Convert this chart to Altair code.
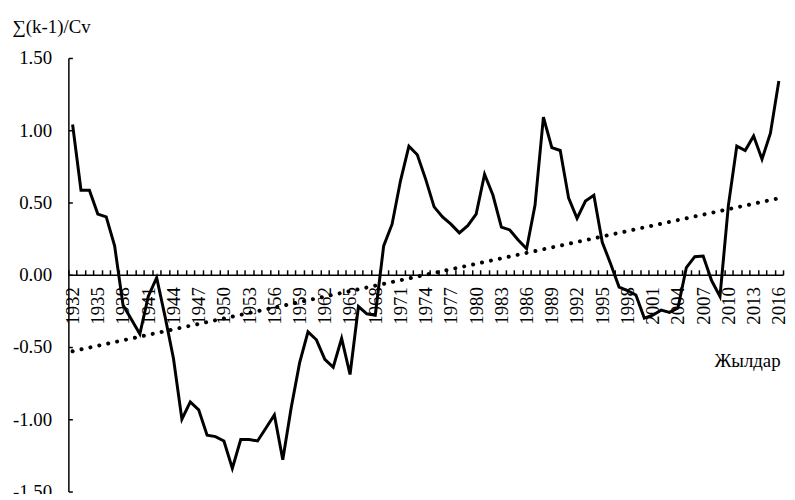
import altair as alt
import pandas as pd

years = list(range(1932, 2017))
values = [1.04, 0.585, 0.585, 0.42, 0.40, 0.20, -0.21, -0.31, -0.41, -0.15,
          -0.02, -0.29, -0.58, -1.00, -0.88, -0.935, -1.11, -1.12, -1.15, -1.34,
          -1.14, -1.14, -1.15, -1.06, -0.97, -1.28, -0.92, -0.61, -0.395, -0.45,
          -0.585, -0.64, -0.44, -0.69, -0.22, -0.27, -0.28, 0.20, 0.35, 0.65,
          0.89, 0.83, 0.66, 0.47, 0.40, 0.35, 0.29, 0.34, 0.42, 0.695,
          0.55, 0.33, 0.31, 0.24, 0.18, 0.48, 1.09, 0.88, 0.86, 0.53,
          0.39, 0.51, 0.55, 0.225, 0.075, -0.085, -0.11, -0.14, -0.30, -0.28,
          -0.245, -0.26, -0.23, 0.05, 0.125, 0.13, -0.04, -0.15, 0.48, 0.89,
          0.86, 0.96, 0.80, 0.98, 1.34]

y_ticks = [-1.5, -1.0, -0.5, 0.0, 0.5, 1.0, 1.5]
x_label_years = list(range(1932, 2017, 3))
x_tick_edges = [y - 0.5 for y in years] + [years[-1] + 0.5]

y_title = "∑(k-1)/Cv"
x_title = "Жылдар"

FONT = "Liberation Serif"
FS = 19
W, H = 722, 438

df = pd.DataFrame({"year": years, "value": values})

xscale = alt.Scale(domain=[years[0] - 0.5, years[-1] + 0.5], nice=False, zero=False)
yscale = alt.Scale(domain=[-1.5, 1.5], nice=False, zero=False)

axis_x_labels = alt.Axis(
    orient="bottom", offset=-H / 2, values=x_label_years, format="d",
    labelAngle=270, labelPadding=12, ticks=False, tickSize=0, domain=False,
    grid=False, labelFontSize=FS, labelColor="black",
    labelOverlap=False, labelFlush=False,
    title=x_title, titleFontSize=FS, titleFontWeight="normal",
    titleColor="black", titleX=719, titleY=93, titleAlign="right",
    titleBaseline="alphabetic", titleAnchor="end",
)
axis_x_ticks = alt.Axis(
    orient="top", offset=-H / 2, values=x_tick_edges, labels=False,
    ticks=True, tickSize=5, tickWidth=1.5, tickColor="black",
    domain=True, domainColor="black", domainWidth=1.5, grid=False, title=None,
)
axis_y_labels = alt.Axis(
    orient="left", values=y_ticks,
    labelExpr="(datum.value < 0 ? '-' : '') + format(abs(datum.value), '.2f')",
    ticks=False, tickSize=0, labelPadding=17, domain=True, domainColor="black",
    domainWidth=1.5, grid=False, labelFontSize=FS,
    labelColor="black",
    title=y_title, titleAngle=0, titleX=-57, titleY=-26, titleAlign="left",
    titleBaseline="alphabetic", titleFontSize=FS,
    titleFontWeight="normal", titleColor="black",
)
axis_y_ticks = alt.Axis(
    orient="right", offset=-W, values=y_ticks, labels=False, ticks=True,
    tickSize=4, tickWidth=1.5, tickColor="black", domain=False, grid=False,
    title=None,
)

base = alt.Chart(df)

trend = base.transform_regression("year", "value").mark_line(
    color="black", strokeWidth=4, strokeDash=[0.1, 9.1], strokeCap="round"
).encode(
    x=alt.X("year:Q", scale=xscale, axis=axis_x_ticks),
    y=alt.Y("value:Q", scale=yscale, axis=axis_y_ticks),
)

line = base.mark_line(color="black", strokeWidth=3).encode(
    x=alt.X("year:Q", scale=xscale, axis=axis_x_labels),
    y=alt.Y("value:Q", scale=yscale, axis=axis_y_labels),
)

chart = alt.layer(trend, line).resolve_axis(
    x="independent", y="independent"
).properties(
    width=W, height=H,
    autosize=alt.AutoSizeParams(type="none"),
    padding={"left": 61, "top": 48, "right": 4, "bottom": 0},
).configure(
    font=FONT
).configure_axis(
    labelFont=FONT, titleFont=FONT
).configure_view(stroke=None)

chart.save("out.html", embed_options={"renderer": "svg", "actions": False})
